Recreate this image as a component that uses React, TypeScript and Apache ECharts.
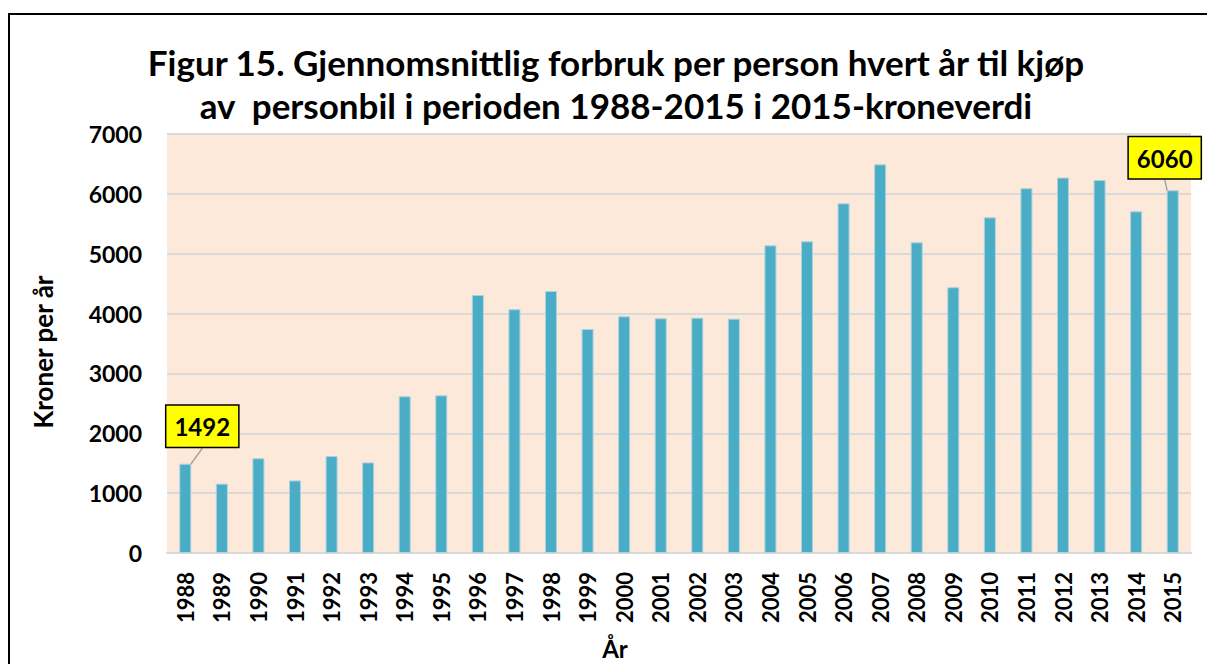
import React, { useEffect, useRef } from "react";
import * as echarts from "echarts";

const years = [
  "1988", "1989", "1990", "1991", "1992", "1993", "1994", "1995", "1996", "1997",
  "1998", "1999", "2000", "2001", "2002", "2003", "2004", "2005", "2006", "2007",
  "2008", "2009", "2010", "2011", "2012", "2013", "2014", "2015",
];
const values = [
  1492, 1159, 1583, 1212, 1620, 1514, 2618, 2634, 4310, 4072,
  4377, 3742, 3954, 3921, 3932, 3915, 5140, 5207, 5842, 6493,
  5190, 4440, 5608, 6094, 6272, 6230, 5708, 6060,
];
const labelledIndices = [0, 27];
const titleLines = [
  "Figur 15. Gjennomsnittlig forbruk per person hvert år til kjøp",
  "av  personbil i perioden 1988-2015 i 2015-kroneverdi",
];
const yAxisName = "Kroner per år";
const xAxisName = "År";

const FONT = "Lato, 'Open Sans', sans-serif";

export default function App() {
  const ref = useRef<HTMLDivElement>(null);
  useEffect(() => {
    if (!ref.current) return;
    const chart = echarts.init(ref.current, undefined, { renderer: "svg" });
    const data = values.map((v, i) =>
      labelledIndices.includes(i)
        ? {
            value: v,
            label: {
              show: true,
              position: "top",
              distance: 5,
              formatter: "{c}",
              color: "#000",
              fontFamily: FONT,
              fontWeight: "bold",
              fontSize: 24,
              lineHeight: 24,
              backgroundColor: "#FFFF00",
              borderColor: "#000",
              borderWidth: 1.5,
              padding: [9, 8, 8, 8],
            },
            labelLine: { show: true, lineStyle: { color: "#A6A6A6", width: 1.5 } },
          }
        : v
    );
    chart.setOption({
      animation: false,
      backgroundColor: "#fff",
      title: {
        text: titleLines.join("\n"),
        left: 611,
        top: 35,
        textAlign: "center",
        textStyle: {
          fontFamily: FONT,
          fontWeight: "bold",
          fontSize: 35,
          lineHeight: 43,
          color: "#000",
        },
      },
      graphic: [
        {
          type: "rect",
          shape: { x: 9, y: 14, width: 1260, height: 720 },
          style: { fill: "none", stroke: "#000", lineWidth: 2 },
          silent: true,
        },
        {
          type: "text",
          x: 615,
          y: 648,
          style: {
            text: xAxisName,
            fontFamily: FONT,
            fontWeight: "bold",
            fontSize: 24,
            fill: "#000",
            align: "center",
            verticalAlign: "middle",
          },
          silent: true,
        },
        {
          type: "text",
          x: 43,
          y: 352,
          rotation: Math.PI / 2,
          style: {
            text: yAxisName,
            fontFamily: FONT,
            fontWeight: "bold",
            fontSize: 26,
            fill: "#000",
            align: "center",
            verticalAlign: "middle",
          },
          silent: true,
        },
      ],
      grid: {
        left: 167,
        right: 16,
        top: 134,
        bottom: 111,
        show: true,
        backgroundColor: "#FDE9D9",
        borderWidth: 0,
        outerBoundsMode: "none",
        containLabel: false,
      },
      xAxis: {
        type: "category",
        data: years,
        axisLine: { show: true, lineStyle: { color: "#D9D9D9", width: 2 } },
        axisTick: { show: false },
        axisLabel: {
          rotate: 90,
          margin: 19,
          fontFamily: FONT,
          fontWeight: "bold",
          fontSize: 22,
          color: "#000",
        },
      },
      yAxis: {
        type: "value",
        min: 0,
        max: 7000,
        interval: 1000,
        axisLine: { show: false },
        axisTick: { show: false },
        splitLine: { show: true, lineStyle: { color: "#D9D9D9", width: 2 } },
        axisLabel: {
          margin: 25,
          fontFamily: FONT,
          fontWeight: "bold",
          fontSize: 23,
          color: "#000",
          formatter: (v: number) => String(v),
        },
      },
      series: [
        {
          type: "bar",
          data,
          barWidth: 12,
          itemStyle: { color: "#4BACC6", borderColor: "#A9D3DF", borderWidth: 1 },
          labelLayout: (p: any) =>
            p.dataIndex === 0 ? { dx: 17, dy: -12 } : { dx: -8, dy: -7 },
        },
      ],
    });
    return () => chart.dispose();
  }, []);
  return (
    <div
      ref={ref}
      style={{ position: "fixed", left: 0, top: 0, width: 1207, height: 664 }}
    />
  );
}
